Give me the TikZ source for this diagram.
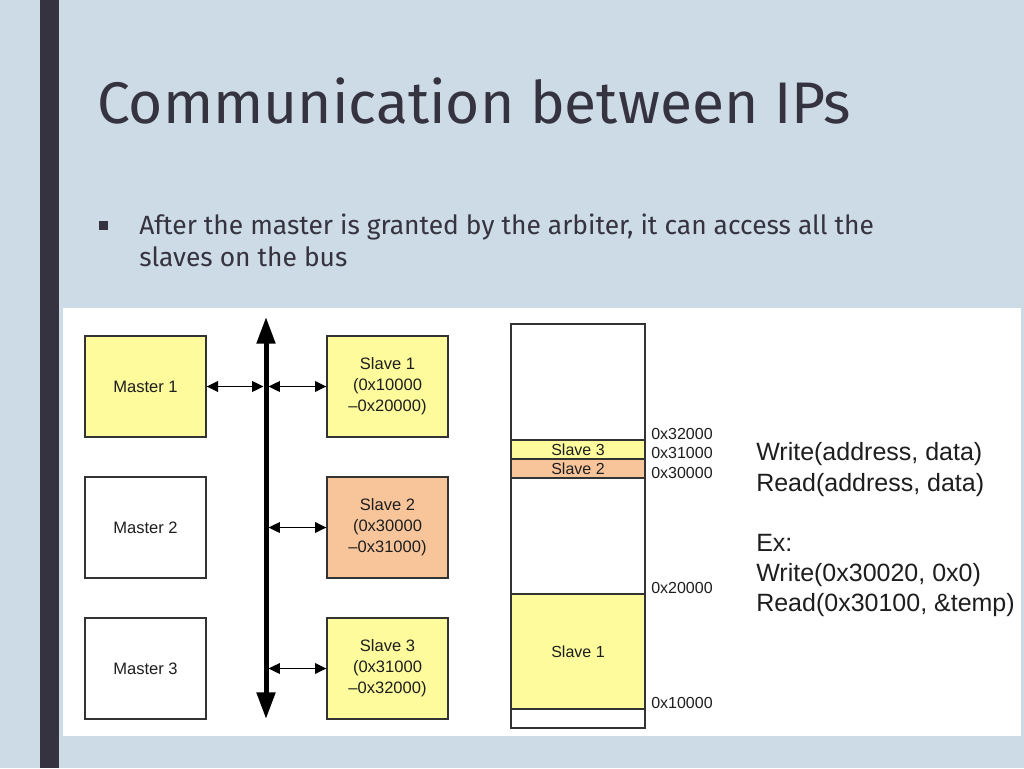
\documentclass[tikz,border=0pt]{standalone}
\usepackage{fontspec}
\setmainfont{Liberation Sans}
\newfontfamily\slidefont{Fira Sans}
\usetikzlibrary{arrows.meta}
\definecolor{bg}{HTML}{CDDBE6}
\definecolor{dark}{HTML}{35333F}
\definecolor{yel}{HTML}{FDFB9C}
\definecolor{ora}{HTML}{F8C59B}
\definecolor{edge}{HTML}{333333}
\definecolor{ink}{HTML}{1E1E1E}
\begin{document}
\begin{tikzpicture}[x=0.75pt,y=-0.75pt,
  blk/.style={draw=edge, line width=1pt, minimum width=90.75pt, minimum height=75.75pt, inner sep=0pt,
    align=center, text=ink, font=\fontsize{12.4}{15.75}\selectfont},
  dbl/.style={line width=1pt, {Triangle[length=8.5pt,width=8pt]}-{Triangle[length=8.5pt,width=8pt]}},
  band/.style={draw=edge, line width=0.8pt, text=ink, font=\fontsize{12}{13}\selectfont},
  addr/.style={anchor=west, inner sep=0pt, text=ink, font=\fontsize{12}{13}\selectfont},
  code/.style={anchor=base west, inner sep=0pt, text=ink, font=\fontsize{18.75}{22.5}\selectfont},
  bullet/.style={anchor=base west, inner sep=0pt, text=dark, font=\slidefont\fontsize{19.8}{24}\selectfont}]
\useasboundingbox (0,0) rectangle (1024,768);
\fill[bg] (0,0) rectangle (1024,768);
\fill[dark] (40,0) rectangle (59,768);
\node[anchor=base west, inner sep=0pt, text=dark, font=\slidefont\fontsize{44}{54}\selectfont] (title) at (97,123) {Communication between IPs};
\fill[dark] (99,221) rectangle (108,230);
\node[bullet] (bul1) at (139,234) {After the master is granted by the arbiter, it can access all the};
\node[bullet] (bul2) at (139,266) {slaves on the bus};
\fill[white] (63,308) rectangle (1021,736);
% masters and slaves
\node[blk, fill=yel] (m1) at (145.5,386.5) {Master 1};
\node[blk, fill=white] (m2) at (145.5,527.5) {Master 2};
\node[blk, fill=white] (m3) at (145.5,668.5) {Master 3};
\node[blk, fill=yel] (s1) at (387.5,386.5) {Slave 1\\(0x10000\\–0x20000)};
\node[blk, fill=ora] (s2) at (387.5,527.5) {Slave 2\\(0x30000\\–0x31000)};
\node[blk, fill=yel] (s3) at (387.5,668.5) {Slave 3\\(0x31000\\–0x32000)};
% bus
\coordinate (bt) at (266,317);
\coordinate (bb) at (266,719);
\draw[line width=3.75pt, {Triangle[length=20pt,width=13.5pt]}-{Triangle[length=20pt,width=13.5pt]}] (bt) -- (bb);
\coordinate (b1l) at (263.5,386.5);
\coordinate (b1r) at (268.5,386.5);
\coordinate (b2r) at (268.5,527.5);
\coordinate (b3r) at (268.5,668.5);
\draw[dbl] (m1.east) -- (b1l);
\draw[dbl] (b1r) -- (s1.west);
\draw[dbl] (b2r) -- (s2.west);
\draw[dbl] (b3r) -- (s3.west);
% memory map
\draw[edge, line width=0.8pt] (511,324) rectangle (645,728);
\node[band, fill=yel, minimum width=100.5pt, minimum height=14.25pt, inner sep=0pt] (ms3) at (578,449.5) {Slave 3};
\node[band, fill=ora, minimum width=100.5pt, minimum height=14.25pt, inner sep=0pt] (ms2) at (578,468.5) {Slave 2};
\node[band, fill=yel, minimum width=100.5pt, minimum height=86.25pt, inner sep=0pt] (ms1) at (578,651.5) {Slave 1};
\node[addr] (a32) at (651,434) {0x32000};
\node[addr] (a31) at (651,453) {0x31000};
\node[addr] (a30) at (651,473) {0x30000};
\node[addr] (a20) at (651,588) {0x20000};
\node[addr] (a10) at (651,703) {0x10000};
% code text
\node[code] (c1) at (756,460) {Write(address, data)};
\node[code] (c2) at (756,491) {Read(address, data)};
\node[code] (c3) at (756,551) {Ex:};
\node[code] (c4) at (756,581) {Write(0x30020, 0x0)};
\node[code] (c5) at (756,611) {Read(0x30100, \&temp)};
\end{tikzpicture}
\end{document}
